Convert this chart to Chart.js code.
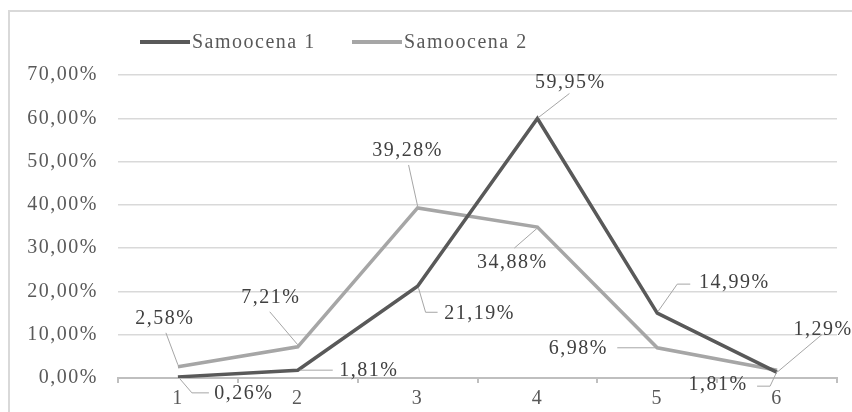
<!DOCTYPE html>
<html lang="pl">
<head>
  <meta charset="UTF-8" />
  <title>Samoocena</title>
  <script src="https://cdn.jsdelivr.net/npm/chart.js"></script>
  <style>
    body { margin: 0; background: #fff; }
    #wrap { width: 852px; height: 412px; }
  </style>
</head>
<body>
  <div id="wrap"><canvas id="chart" width="852" height="412"></canvas></div>

  <script>
    const categories = ["1", "2", "3", "4", "5", "6"];
    const samoocena1 = [0.26, 1.81, 21.19, 59.95, 14.99, 1.29];
    const samoocena2 = [2.58, 7.21, 39.28, 34.88, 6.98, 1.81];
    const yMin = 0, yMax = 70, yStep = 10;

    const FONT = { family: "'Liberation Serif', 'Times New Roman', serif", size: 20 };
    const fontStr = FONT.size + "px " + FONT.family;
    const fmt = v => Number(v).toFixed(2).replace(".", ",") + "%";

    // where each value label sits relative to its point, plus its leader line
    const labelPlaces = [
      [
        { text: [66, 17],  leader: [[2, 2], [14, 16], [31, 16]] },
        { text: [71, 1],   leader: [[2, 0], [35, 0]] },
        { text: [62, 27],  leader: [[1, 2], [8, 26], [20, 26]] },
        { text: [33, -36], leader: [[1, -1], [32, -25]] },
        { text: [77, -30], leader: [[1, -2], [20, -29], [33, -29]] },
        { text: [46, -43], leader: [[1, -1], [45, -38]] }
      ],
      [
        { text: [-13, -48], leader: [[0, -2], [-12, -34]] },
        { text: [-27, -49], leader: [[0, -2], [-28, -35]] },
        { text: [-10, -57], leader: [[0, -2], [-9, -43]] },
        { text: [-25, 36],  leader: [[0, 1], [-23, 21]] },
        { text: [-79, 1],   leader: [[-1, 0], [-40, 0]] },
        { text: [-59, 15],  leader: [[0, 1], [-7, 16], [-20, 16]] }
      ]
    ];

    const framePlugin = {
      id: "frame",
      beforeDraw(chart) {
        const ctx = chart.ctx;
        ctx.letterSpacing = "1.5px";
        ctx.save();
        ctx.fillStyle = "#fff";
        ctx.fillRect(0, 0, chart.width, chart.height);
        ctx.strokeStyle = "#d9d9d9";
        ctx.lineWidth = 2;
        ctx.beginPath();
        ctx.moveTo(9, chart.height);
        ctx.lineTo(9, 11);
        ctx.lineTo(chart.width, 11);
        ctx.stroke();
        ctx.restore();
      }
    };

    const calloutPlugin = {
      id: "callouts",
      afterDatasetsDraw(chart) {
        const ctx = chart.ctx;
        chart.data.datasets.forEach((ds, i) => {
          const meta = chart.getDatasetMeta(i);
          meta.data.forEach((pt, j) => {
            const p = labelPlaces[i][j];
            ctx.save();
            ctx.strokeStyle = "#a6a6a6";
            ctx.lineWidth = 1;
            ctx.beginPath();
            p.leader.forEach(([dx, dy], k) => {
              if (k === 0) ctx.moveTo(pt.x + dx, pt.y + dy);
              else ctx.lineTo(pt.x + dx, pt.y + dy);
            });
            ctx.stroke();
            ctx.fillStyle = "#404040";
            ctx.font = fontStr;
            ctx.letterSpacing = "1.5px";
            ctx.textAlign = "center";
            ctx.textBaseline = "middle";
            ctx.fillText(fmt(ds.data[j]), pt.x + p.text[0], pt.y + p.text[1]);
            ctx.restore();
          });
        });
      }
    };

    const legendPlugin = {
      id: "lineLegend",
      afterDraw(chart) {
        const ctx = chart.ctx;
        const starts = [140, 352];
        ctx.save();
        ctx.font = fontStr;
        ctx.letterSpacing = "1.5px";
        ctx.textBaseline = "middle";
        chart.data.datasets.forEach((ds, i) => {
          const x = starts[i], y = 42;
          ctx.strokeStyle = ds.borderColor;
          ctx.lineWidth = 4;
          ctx.beginPath();
          ctx.moveTo(x, y);
          ctx.lineTo(x + 50, y);
          ctx.stroke();
          ctx.fillStyle = "#595959";
          ctx.fillText(ds.label, x + 52, y + 1);
        });
        ctx.restore();
      }
    };

    new Chart(document.getElementById("chart"), {
      type: "line",
      data: {
        labels: categories,
        datasets: [
          { label: "Samoocena 1", data: samoocena1, borderColor: "#595959", borderWidth: 3.5 },
          { label: "Samoocena 2", data: samoocena2, borderColor: "#a6a6a6", borderWidth: 3.5 }
        ]
      },
      options: {
        responsive: false,
        animation: false,
        layout: { padding: { top: 75, left: 0, right: 15, bottom: 0 } },
        elements: {
          line: { tension: 0, fill: false },
          point: { radius: 0, hoverRadius: 0 }
        },
        plugins: {
          legend: { display: false },
          tooltip: { enabled: false }
        },
        scales: {
          x: {
            offset: true,
            grid: {
              display: true,
              offset: true,
              drawOnChartArea: false,
              drawTicks: true,
              tickLength: 5,
              color: "#bfbfbf",
              lineWidth: 2
            },
            border: { color: "#bfbfbf", width: 2 },
            ticks: { font: FONT, color: "#595959", padding: 4, maxRotation: 0 },
            afterFit(scale) { scale.height = 34; }
          },
          y: {
            min: yMin,
            max: yMax,
            grid: { color: "#d9d9d9", lineWidth: 1.5, drawTicks: false },
            border: { display: false },
            ticks: {
              stepSize: yStep,
              font: FONT,
              color: "#595959",
              padding: 20,
              callback: v => fmt(v)
            },
            afterFit(scale) { scale.width = 118; }
          }
        }
      },
      plugins: [framePlugin, calloutPlugin, legendPlugin]
    });
  </script>
</body>
</html>
